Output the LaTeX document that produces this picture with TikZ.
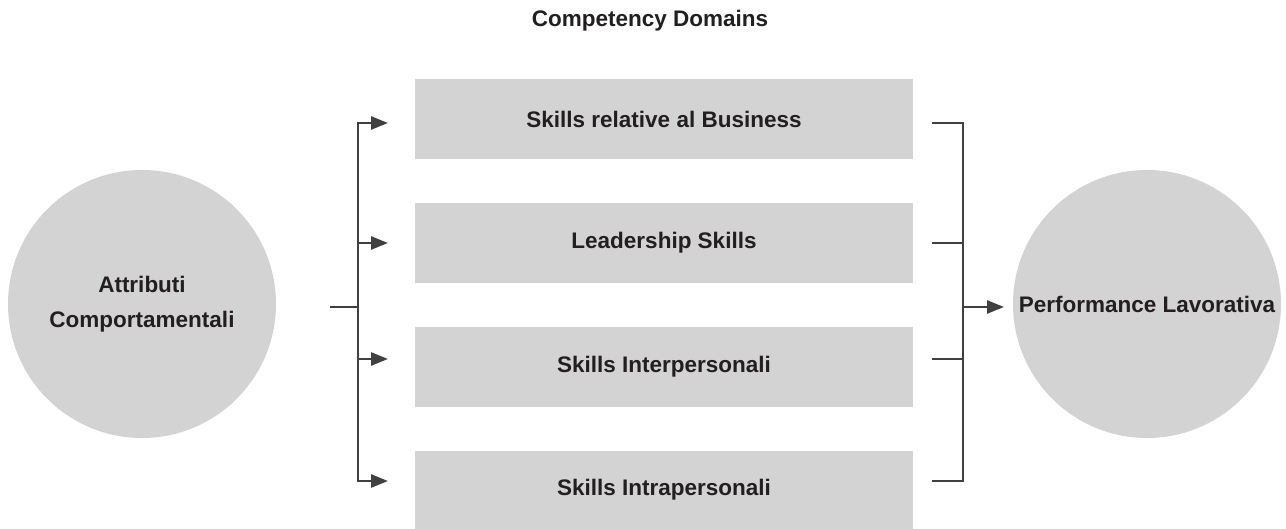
\documentclass[tikz,border=0pt]{standalone}
\usepackage{fontspec}
\setmainfont{Liberation Sans}
\usetikzlibrary{arrows.meta}
\definecolor{boxgray}{HTML}{D3D3D3}
\definecolor{linegray}{HTML}{404040}
\definecolor{txt}{HTML}{231F20}
\tikzset{
  lbl/.style={font=\fontsize{22.5}{35}\selectfont\bfseries, text=txt},
  circ/.style={circle, fill=boxgray, minimum size=268pt, inner sep=0pt, lbl, align=center},
  domainbox/.style={rectangle, fill=boxgray, minimum width=498pt, minimum height=80pt, inner sep=0pt, lbl},
  conn/.style={draw=linegray, line width=2.5pt},
  arr/.style={conn, -{Triangle[length=17pt,width=13pt]}},
}
\begin{document}
\begin{tikzpicture}[x=1pt,y=-1pt]
\useasboundingbox (0,0) rectangle (1286,529);
\begin{scope}
\clip (0,0) rectangle (1286,529);
\node[lbl] (title) at (650,21) {Competency Domains};
\node[circ] (attr) at (142,304) {Attributi\\Comportamentali};
\node[circ] (perf) at (1147,304) {Performance Lavorativa};
\node[domainbox] (b1) at (664,119) {Skills relative al Business};
\node[domainbox] (b2) at (664,243) {Leadership Skills};
\node[domainbox] (b3) at (664,367) {Skills Interpersonali};
\node[domainbox] (b4) at (664,491) {};
\node[lbl] (b4t) at (664,490) {Skills Intrapersonali};
\end{scope}
% left bracket
\coordinate (lstart) at (330,307);
\coordinate (lmid) at (358,307);
\coordinate (a1) at (388,123);
\coordinate (a2) at (388,243);
\coordinate (a3) at (388,359);
\coordinate (a4) at (388,481);
\draw[conn] (lstart) -- (lmid);
\draw[arr] (lmid) |- (a1);
\draw[arr] (lmid) |- (a4);
\draw[arr] (lmid |- a2) -- (a2);
\draw[arr] (lmid |- a3) -- (a3);
% right bracket
\coordinate (rmid) at (963,307);
\coordinate (r1) at (932,123);
\coordinate (r2) at (932,243);
\coordinate (r3) at (932,359);
\coordinate (r4) at (932,481);
\coordinate (pend) at (1004,307);
\draw[conn] (r1) -| (rmid);
\draw[conn] (r4) -| (rmid);
\draw[conn] (r2) -- (rmid |- r2);
\draw[conn] (r3) -- (rmid |- r3);
\draw[arr] (rmid) -- (pend);
\end{tikzpicture}
\end{document}
